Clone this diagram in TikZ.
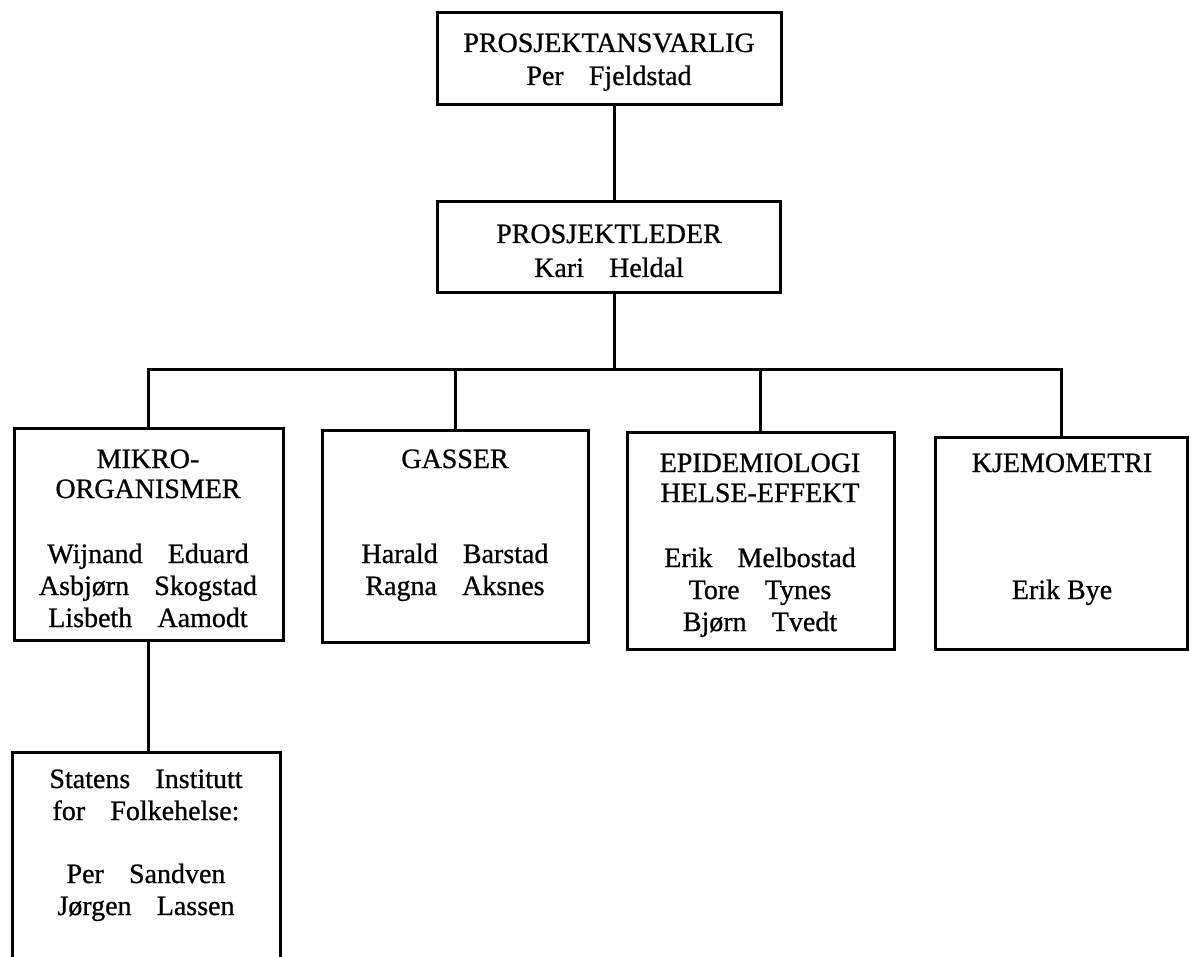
\documentclass[tikz,border=0pt]{standalone}
\usepackage{fontspec}
\setmainfont{Liberation Serif}[FakeBold=0.8]
\begin{document}
\begin{tikzpicture}[x=1pt,y=-1pt,
  box/.style={draw, line width=3pt, inner sep=0pt},
  txt/.style={font=\fontsize{28}{32}\selectfont, inner sep=0pt, anchor=base},
  conn/.style={line width=3pt}]
\useasboundingbox (0,0) rectangle (1191,957);
\newcommand{\gap}{\hspace{0.9em}}
% boxes
\node[box, minimum width=344, minimum height=92] (A) at (609,59) {};
\node[box, minimum width=343, minimum height=91] (B) at (608.5,247.5) {};
\node[box, minimum width=269, minimum height=212] (M) at (148.5,534) {};
\node[box, minimum width=266, minimum height=212] (G) at (455,536) {};
\node[box, minimum width=267, minimum height=217] (E) at (760.5,540.5) {};
\node[box, minimum width=252, minimum height=212] (K) at (1061,543) {};
\node[box, minimum width=268, minimum height=260] (S) at (146,882) {};
% texts
\node[txt] (a1) at (609,52) {PROSJEKTANSVARLIG};
\node[txt] (a2) at (609,85) {Per\gap Fjeldstad};
\node[txt] (b1) at (609,243) {PROSJEKTLEDER};
\node[txt] (b2) at (609,277) {Kari\gap Heldal};
\node[txt] (m1) at (148,468) {MIKRO-};
\node[txt] (m2) at (148,498) {ORGANISMER};
\node[txt] (m3) at (148,563) {Wijnand\gap Eduard};
\node[txt] (m4) at (148,595) {Asbjørn\gap Skogstad};
\node[txt] (m5) at (148,627) {Lisbeth\gap Aamodt};
\node[txt] (g1) at (455,468) {GASSER};
\node[txt] (g2) at (455,563) {Harald\gap Barstad};
\node[txt] (g3) at (455,595) {Ragna\gap Aksnes};
\node[txt] (e1) at (760,472) {EPIDEMIOLOGI};
\node[txt] (e2) at (760,502) {HELSE-EFFEKT};
\node[txt] (e3) at (760,567) {Erik\gap Melbostad};
\node[txt] (e4) at (760,599) {Tore\gap Tynes};
\node[txt] (e5) at (760,631) {Bjørn\gap Tvedt};
\node[txt] (k1) at (1062,472) {KJEMOMETRI};
\node[txt] (k2) at (1062,599) {Erik Bye};
\node[txt] (s1) at (146,788) {Statens\gap Institutt};
\node[txt] (s2) at (146,820) {for\gap Folkehelse:};
\node[txt] (s3) at (146,883) {Per\gap Sandven};
\node[txt] (s4) at (146,915) {Jørgen\gap Lassen};
% connectors
\coordinate (bus) at (147,370);
\coordinate (trunk) at (614,0);
\draw[conn] (A.south -| trunk) -- (B.north -| trunk);
\draw[conn] (B.south -| trunk) -- (trunk |- bus);
\draw[conn] (M.north) -- (M.north |- bus) -- (K.north |- bus) -- (K.north);
\draw[conn] (G.north) -- (G.north |- bus);
\draw[conn] (E.north) -- (E.north |- bus);
\draw[conn] (M.south) -- (M.south |- S.north);
\end{tikzpicture}
\end{document}
